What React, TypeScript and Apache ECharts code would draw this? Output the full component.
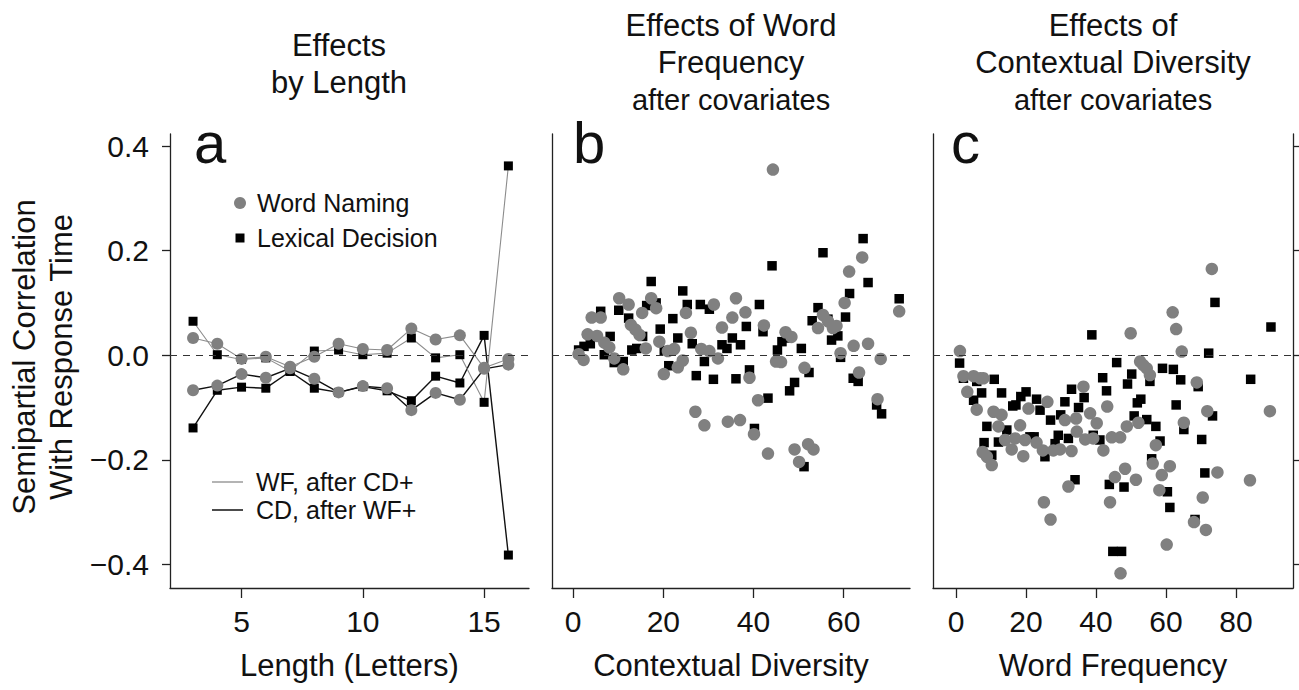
import React, { useEffect, useRef } from "react";
import * as echarts from "echarts";

// ---------- Panel a: effects by length ----------
const lengths = [3, 4, 5, 6, 7, 8, 9, 10, 11, 12, 13, 14, 15, 16];
const wfNaming = [0.033, 0.022, -0.007, -0.003, -0.022, -0.003, 0.022, 0.012, 0.010, 0.051, 0.030, 0.038, -0.024, -0.007];
const wfLexical = [0.065, 0.001, -0.008, -0.005, -0.030, 0.008, 0.010, 0.001, 0.004, 0.033, -0.005, 0.001, -0.090, 0.362];
const cdNaming = [-0.067, -0.058, -0.036, -0.043, -0.025, -0.045, -0.071, -0.059, -0.063, -0.105, -0.072, -0.085, -0.026, -0.018];
const cdLexical = [-0.139, -0.067, -0.061, -0.063, -0.031, -0.063, -0.071, -0.060, -0.068, -0.087, -0.040, -0.053, 0.038, -0.382];

// ---------- Panel b: word frequency effect vs contextual diversity ----------
const bNaming: [number, number][] = [
  [1.2, 0.002], [2.3, -0.009], [4.1, 0.072], [6.1, 0.072], [3.2, 0.040], [5.3, 0.037], [6.9, 0.024],
  [8.0, 0.015], [9.1, -0.006], [10.2, 0.109], [12.3, 0.097], [11.1, -0.027], [12.8, 0.058], [13.8, 0.049],
  [14.7, 0.039], [15.3, 0.081], [16.1, 0.013], [17.3, 0.109], [18.4, 0.090], [19.1, 0.026], [20.1, -0.036],
  [21.0, 0.008], [22.4, 0.012], [23.2, -0.023], [24.3, -0.010], [25.0, 0.081], [26.1, 0.043], [27.1, -0.108],
  [28.4, 0.012], [29.1, -0.134], [30.2, 0.008], [31.2, 0.097], [32.1, -0.006], [33.0, 0.053], [34.3, -0.127],
  [35.3, 0.072], [36.1, 0.109], [37.0, -0.124], [38.2, 0.082], [39.1, -0.043], [40.1, -0.151], [41.0, -0.086],
  [42.3, 0.057], [43.2, -0.188], [44.3, 0.355], [45.0, -0.012], [46.1, -0.013], [47.1, 0.044], [48.4, 0.035],
  [49.1, -0.180], [50.1, -0.204], [51.3, -0.024], [52.1, -0.170], [53.3, -0.180], [54.3, 0.052], [55.4, 0.077],
  [56.5, 0.065], [57.6, 0.052], [58.4, 0.056], [59.3, 0.004], [60.2, 0.100], [61.2, 0.160], [62.2, 0.018],
  [63.4, -0.033], [64.1, 0.187], [65.4, 0.022], [67.5, -0.084], [68.2, -0.007], [72.3, 0.084],
];
const bLexical: [number, number][] = [
  [1.2, 0.010], [2.4, 0.017], [3.8, 0.022], [6.1, 0.084], [6.9, 0.001], [8.2, 0.036], [9.1, -0.014],
  [10.1, 0.086], [11.1, -0.012], [12.3, 0.071], [13.0, 0.010], [14.1, 0.013], [15.4, 0.036], [16.3, 0.095],
  [17.3, 0.141], [18.4, 0.100], [19.3, 0.050], [20.2, 0.009], [21.2, -0.020], [22.1, 0.070], [23.2, 0.033],
  [24.3, 0.123], [25.3, 0.097], [26.4, 0.022], [27.3, -0.039], [28.2, 0.097], [29.1, -0.012], [30.2, 0.088],
  [31.1, -0.046], [33.0, 0.020], [34.1, 0.013], [35.3, 0.033], [36.1, -0.045], [37.1, 0.020], [38.4, 0.055],
  [39.1, -0.028], [40.2, -0.140], [41.3, 0.097], [42.1, 0.045], [43.2, -0.082], [44.1, 0.171], [45.3, 0.010],
  [46.3, 0.026], [47.3, 0.033], [48.0, -0.068], [49.1, -0.052], [50.6, 0.013], [51.2, -0.213], [52.3, -0.033],
  [53.0, 0.066], [54.3, 0.091], [55.4, 0.196], [56.5, 0.069], [57.3, 0.029], [58.7, 0.037], [59.3, -0.004],
  [60.4, 0.073], [61.3, 0.118], [62.1, -0.044], [63.2, -0.050], [64.3, 0.223], [65.4, 0.139], [67.3, -0.095],
  [68.4, -0.112], [72.3, 0.108],
];

// ---------- Panel c: contextual diversity effect vs word frequency ----------
const cNaming: [number, number][] = [
  [1.1, 0.008], [2.1, -0.040], [3.2, -0.070], [5.0, -0.040], [5.9, -0.104], [6.9, -0.044], [7.8, -0.044],
  [7.6, -0.185], [8.8, -0.194], [10.2, -0.210], [10.7, -0.108], [12.1, -0.136], [13.0, -0.114], [14.0, -0.162],
  [15.9, -0.180], [16.9, -0.159], [18.3, -0.134], [19.2, -0.193], [20.7, -0.102], [19.7, -0.162], [23.0, -0.167],
  [24.8, -0.182], [26.1, -0.089], [27.8, -0.182], [29.7, -0.180], [31.1, -0.124], [32.1, -0.251], [33.0, -0.183],
  [34.3, -0.121], [34.5, -0.146], [36.4, -0.060], [36.9, -0.161], [38.3, -0.111], [39.2, -0.159], [40.2, -0.130],
  [42.1, -0.182], [43.2, -0.098], [44.0, -0.281], [25.1, -0.281], [27.0, -0.314], [44.5, -0.157], [45.4, -0.233],
  [46.9, -0.157], [47.0, -0.417], [48.3, -0.217], [48.8, -0.136], [49.9, 0.042], [51.4, -0.238], [52.1, -0.129],
  [52.6, -0.012], [53.5, -0.019], [54.5, -0.025], [55.4, -0.038], [56.2, -0.207], [57.1, -0.172], [58.1, -0.258],
  [58.8, -0.229], [60.2, -0.362], [61.1, -0.212], [61.9, 0.082], [62.9, 0.050], [64.5, 0.007], [65.1, -0.129],
  [68.0, -0.319], [68.8, -0.052], [70.5, -0.272], [71.4, -0.334], [71.8, -0.107], [73.1, 0.165], [74.7, -0.224],
  [84.0, -0.239], [89.7, -0.107],
];
const cLexical: [number, number][] = [
  [1.0, -0.015], [2.1, -0.044], [5.0, -0.086], [5.9, -0.050], [7.3, -0.072], [8.0, -0.167], [8.8, -0.136],
  [10.2, -0.191], [10.9, -0.046], [12.1, -0.166], [13.0, -0.072], [14.5, -0.143], [16.2, -0.097], [17.1, -0.095],
  [18.5, -0.079], [20.0, -0.070], [21.1, -0.156], [22.3, -0.156], [23.0, -0.084], [24.0, -0.105], [25.4, -0.194],
  [27.0, -0.124], [28.3, -0.169], [29.2, -0.153], [29.9, -0.114], [31.1, -0.089], [32.1, -0.159], [33.0, -0.065],
  [34.0, -0.238], [35.0, -0.100], [36.6, -0.081], [38.8, 0.039], [39.2, -0.153], [41.1, -0.162], [41.9, -0.043],
  [43.0, -0.068], [43.8, -0.247], [44.8, -0.375], [45.9, -0.014], [47.3, -0.375], [48.0, -0.252], [49.0, -0.055],
  [50.2, -0.036], [50.9, -0.116], [51.8, -0.091], [52.8, -0.084], [54.5, -0.123], [55.4, -0.050], [55.9, -0.198],
  [57.1, -0.136], [58.3, -0.164], [59.0, -0.025], [60.4, -0.261], [61.1, -0.291], [62.1, -0.027], [62.9, -0.095],
  [64.2, -0.047], [65.1, -0.142], [68.3, -0.314], [69.2, -0.060], [70.2, -0.161], [71.1, -0.225], [72.2, 0.004],
  [73.3, -0.116], [74.0, 0.101], [84.2, -0.046], [90.0, 0.054],
];

// ---------- Ticks and texts ----------
const yTicks = [-0.4, -0.2, 0, 0.2, 0.4];
const xTicksA = [5, 10, 15];
const xTicksB = [0, 20, 40, 60];
const xTicksC = [0, 20, 40, 60, 80];
const xNames = ["Length (Letters)", "Contextual Diversity", "Word Frequency"];
const yNameLines = ["Semipartial Correlation", "With Response Time"];
const titleA = ["Effects", "by Length"];
const titleB = ["Effects of Word", "Frequency", "after covariates"];
const titleC = ["Effects of", "Contextual Diversity", "after covariates"];
const panelLetters = ["a", "b", "c"];
const markerLegend = ["Word Naming", "Lexical Decision"];
const lineLegend = ["WF, after CD+", "CD, after WF+"];

const FONT = '"Liberation Sans", Arial, Helvetica, sans-serif';
const GRAY = "#808080";
const GRAY_LINE = "#8c8c8c";
const AXIS = "#222";

const Y_MIN = -0.445;
const Y_MAX = 0.423;

function App() {
  const ref = useRef<HTMLDivElement>(null);

  useEffect(() => {
    document.body.style.margin = "0";
    if (!ref.current) return;
    const chart = echarts.init(ref.current, null, { renderer: "svg" });

    const grids = [
      { left: 170, top: 134, width: 359, height: 454 },
      { left: 552, top: 134, width: 358, height: 454 },
      { left: 933, top: 134, width: 360, height: 454 },
    ];

    const fmtY = (v: number) => (v < 0 ? "\u2212" + Math.abs(v).toFixed(1) : v.toFixed(1));

    const xAxisBase = (gridIndex: number, min: number, max: number, ticks: number[], name: string) => ({
      type: "value",
      gridIndex,
      min,
      max,
      name,
      nameLocation: "middle",
      nameGap: 62,
      nameTextStyle: { fontFamily: FONT, fontSize: 31, color: "#111" },
      axisLine: { show: true, onZero: false, lineStyle: { color: AXIS, width: 1.3 } },
      axisTick: { show: true, length: 10, customValues: ticks, lineStyle: { color: AXIS, width: 1.3 } },
      axisLabel: {
        show: true,
        customValues: ticks,
        margin: 18,
        fontFamily: FONT,
        fontSize: 30,
        color: "#111",
      },
      splitLine: { show: false },
    });

    const yAxisBase = (gridIndex: number, opts: any) => ({
      type: "value",
      gridIndex,
      min: Y_MIN,
      max: Y_MAX,
      axisLine: { show: true, onZero: false, lineStyle: { color: AXIS, width: 1.3 } },
      splitLine: { show: false },
      ...opts,
    });

    const zeroLine = {
      silent: true,
      symbol: ["none", "none"],
      label: { show: false },
      lineStyle: { type: [7, 6], color: "#333", width: 1.1 },
      data: [{ yAxis: 0 }],
    };

    const lineSeries = (name: string, ys: number[], symbol: string, size: number, color: string, lineColor: string, lw: number, mark?: any) => ({
      name,
      type: "line",
      xAxisIndex: 0,
      yAxisIndex: 0,
      data: lengths.map((x, i) => [x, ys[i]]),
      symbol,
      symbolSize: size,
      showAllSymbol: true,
      itemStyle: { color, borderWidth: 0 },
      lineStyle: { color: lineColor, width: lw },
      emphasis: { disabled: true },
      ...(mark ? { markLine: mark } : {}),
    });

    const scatterSeries = (name: string, pts: [number, number][], gi: number, symbol: string, size: number, color: string, mark?: any) => ({
      name,
      type: "scatter",
      xAxisIndex: gi,
      yAxisIndex: gi,
      data: pts,
      symbol,
      symbolSize: size,
      itemStyle: { color, opacity: 1 },
      emphasis: { disabled: true },
      ...(mark ? { markLine: mark } : {}),
    });

    const textEl = (text: string, x: number, y: number, size: number, align = "center", extra: any = {}) => ({
      type: "text",
      x,
      y,
      silent: true,
      ...extra,
      style: { text, fontFamily: FONT, fontSize: size, fill: "#111", align, verticalAlign: "middle" },
    });

    const graphic: any[] = [
      // titles
      textEl(titleA[0], 339, 45, 31),
      textEl(titleA[1], 339, 82, 31),
      textEl(titleB[0], 731, 25, 31),
      textEl(titleB[1], 731, 62, 31),
      textEl(titleB[2], 731, 100, 29),
      textEl(titleC[0], 1113, 25, 31),
      textEl(titleC[1], 1113, 62, 31),
      textEl(titleC[2], 1113, 100, 29),
      // y axis name (rotated)
      textEl(yNameLines[0], 24, 357, 31, "center", { rotation: Math.PI / 2 }),
      textEl(yNameLines[1], 61, 357, 31, "center", { rotation: Math.PI / 2 }),
      // panel letters
      textEl(panelLetters[0], 194, 142, 58, "left"),
      textEl(panelLetters[1], 573, 142, 58, "left"),
      textEl(panelLetters[2], 951, 142, 58, "left"),
      // marker legend
      { type: "circle", silent: true, shape: { cx: 240, cy: 203, r: 6 }, style: { fill: GRAY } },
      textEl(markerLegend[0], 257, 203, 25, "left"),
      { type: "rect", silent: true, shape: { x: 235.5, y: 233.5, width: 9, height: 9 }, style: { fill: "#000" } },
      textEl(markerLegend[1], 257, 238, 25, "left"),
      // line legend
      { type: "line", silent: true, shape: { x1: 212, y1: 482, x2: 243, y2: 482 }, style: { stroke: GRAY_LINE, lineWidth: 1.3 } },
      textEl(lineLegend[0], 256, 482, 25, "left"),
      { type: "line", silent: true, shape: { x1: 212, y1: 510, x2: 243, y2: 510 }, style: { stroke: "#111", lineWidth: 1.5 } },
      textEl(lineLegend[1], 256, 510, 25, "left"),
    ];

    const option: any = {
      animation: false,
      backgroundColor: "#fff",
      grid: grids.map((g) => ({ ...g, containLabel: false, outerBoundsMode: "none" })),
      xAxis: [
        xAxisBase(0, 2.05, 16.85, xTicksA, xNames[0]),
        xAxisBase(1, -4.7, 74.7, xTicksB, xNames[1]),
        xAxisBase(2, -6.6, 96.3, xTicksC, xNames[2]),
      ],
      yAxis: [
        yAxisBase(0, {
          axisTick: { show: true, length: 8, customValues: yTicks, lineStyle: { color: AXIS, width: 1.3 } },
          axisLabel: { show: true, customValues: yTicks, margin: 21, fontFamily: FONT, fontSize: 30, color: "#111", formatter: fmtY },
        }),
        yAxisBase(1, { axisTick: { show: false }, axisLabel: { show: false } }),
        yAxisBase(2, { axisTick: { show: false }, axisLabel: { show: false } }),
        yAxisBase(2, {
          position: "right",
          axisTick: { show: true, length: 6, customValues: yTicks, lineStyle: { color: AXIS, width: 1.3 } },
          axisLabel: { show: false },
        }),
      ],
      graphic,
      series: [
        lineSeries("CD Lexical Decision", cdLexical, "rect", 9, "#000", "#111", 1.4, zeroLine),
        lineSeries("WF Lexical Decision", wfLexical, "rect", 9, "#000", GRAY_LINE, 1.1),
        lineSeries("CD Word Naming", cdNaming, "circle", 12, GRAY, "#111", 1.4),
        lineSeries("WF Word Naming", wfNaming, "circle", 12, GRAY, GRAY_LINE, 1.1),
        scatterSeries("Lexical Decision b", bLexical, 1, "rect", 9.5, "#000", zeroLine),
        scatterSeries("Word Naming b", bNaming, 1, "circle", 12.5, GRAY),
        scatterSeries("Lexical Decision c", cLexical, 2, "rect", 9.5, "#000", zeroLine),
        scatterSeries("Word Naming c", cNaming, 2, "circle", 12.5, GRAY),
      ],
    };

    chart.setOption(option);
    return () => {
      chart.dispose();
    };
  }, []);

  return <div ref={ref} style={{ width: 1299, height: 690 }} />;
}

export default App;
